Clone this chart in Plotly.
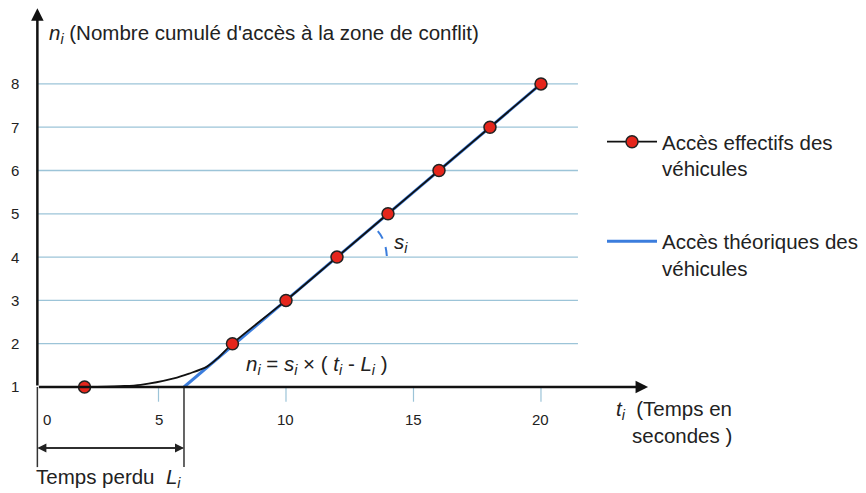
import plotly.graph_objects as go

# ---- data ----
access_t = [2.1, 7.9, 10, 12, 14, 16, 18, 20]          # actual vehicle accesses (s)
access_n = [1, 2, 3, 4, 5, 6, 7, 8]                     # cumulative count
curve_t = [2.1, 3.5, 4.3, 5.6, 6.2, 6.9, 7.35, 7.9, 10, 12, 14, 16, 18, 20]
curve_n = [1.0, 1.02, 1.05, 1.2, 1.31, 1.47, 1.68, 2, 3, 4, 5, 6, 7, 8]
theory_t = [6, 20]                                      # n = s*(t - L), L = 6, s = 0.5
theory_n = [1, 8]
x_ticks = [0, 5, 10, 15, 20]
y_ticks = [1, 2, 3, 4, 5, 6, 7, 8]
lost_time = 6

FONT = "Liberation Sans, Arial, sans-serif"
FS = 20.5
TXT = "#222222"
GRID = "#9cc4d8"
BLUE = "#3b7ddd"
RED = "#e5261c"
x_axis = 0.25

fig = go.Figure()

fig.add_trace(go.Scatter(x=theory_t, y=theory_n, mode="lines",
                         line=dict(color=BLUE, width=3),
                         name="Accès théoriques des<br>véhicules", legend="legend2"))
fig.add_trace(go.Scatter(x=curve_t, y=curve_n, mode="lines", line_shape="spline",
                         line=dict(color="#111111", width=1.8, smoothing=0.9), showlegend=False))
fig.add_trace(go.Scatter(x=access_t, y=access_n, mode="markers",
                         marker=dict(color=RED, size=12, line=dict(color="#222222", width=1.5)),
                         showlegend=False))
fig.add_trace(go.Scatter(x=[None], y=[None], mode="lines+markers",
                         line=dict(color="#111111", width=1.8),
                         marker=dict(color=RED, size=12, line=dict(color="#222222", width=1.5)),
                         name="Accès effectifs des<br>véhicules", legend="legend"))

shapes = []
for v in y_ticks[1:]:
    shapes.append(dict(type="line", x0=x_axis, x1=21.45, y0=v, y1=v,
                       line=dict(color=GRID, width=1.3), layer="below"))
for v in x_ticks[1:]:
    shapes.append(dict(type="line", x0=v, x1=v, y0=0.98, y1=0.66,
                       line=dict(color=GRID, width=1.2)))
# lines below the axis (y-axis extension and lost-time marker)
shapes.append(dict(type="line", x0=x_axis, x1=x_axis, y0=1, y1=-0.85,
                   line=dict(color="#333333", width=1.5)))
shapes.append(dict(type="line", x0=lost_time, x1=lost_time, y0=1, y1=-0.85,
                   line=dict(color="#333333", width=1.5)))
# slope arc
shapes.append(dict(type="path", path="M 13.6,4.6 Q 13.97,4.35 13.96,3.89",
                   line=dict(color=BLUE, width=2, dash="dash")))

ann = []
# axes arrows
ann.append(dict(x=x_axis, y=9.75, ax=x_axis, ay=1, xref="x", yref="y", axref="x", ayref="y",
                text="", showarrow=True, arrowhead=2, arrowsize=1, arrowwidth=2.5, arrowcolor="#111111"))
ann.append(dict(x=24.2, y=1, ax=x_axis, ay=1, xref="x", yref="y", axref="x", ayref="y",
                text="", showarrow=True, arrowhead=2, arrowsize=1, arrowwidth=2.5, arrowcolor="#111111"))
# double arrow for lost time
ann.append(dict(x=x_axis, y=-0.41, ax=lost_time, ay=-0.41, xref="x", yref="y", axref="x", ayref="y",
                text="", showarrow=True, arrowhead=2, arrowsize=1.2, arrowwidth=1.5, arrowcolor="#222222"))
ann.append(dict(x=lost_time, y=-0.41, ax=x_axis, ay=-0.41, xref="x", yref="y", axref="x", ayref="y",
                text="", showarrow=True, arrowhead=2, arrowsize=1.2, arrowwidth=1.5, arrowcolor="#222222"))
# tick labels
for v in x_ticks:
    if v == 0:
        ann.append(dict(x=x_axis, y=0.25, text=str(v), showarrow=False, xanchor="left", xshift=4,
                        font=dict(size=15, color=TXT, family=FONT)))
    else:
        ann.append(dict(x=v, y=0.25, text=str(v), showarrow=False,
                        font=dict(size=15, color=TXT, family=FONT)))
for v in y_ticks:
    ann.append(dict(x=-0.63, y=v, text=str(v), showarrow=False,
                    font=dict(size=15, color=TXT, family=FONT)))
# titles and labels
ann.append(dict(x=0.62, y=9.16, xanchor="left",
                text="<i>n<sub>i</sub></i> (Nombre cumulé d'accès à la zone de conflit)",
                showarrow=False, font=dict(size=FS, color=TXT, family=FONT)))
ann.append(dict(x=27.55, y=0.47, xanchor="right",
                text="<i>t<sub>i</sub></i>  (Temps en", showarrow=False,
                font=dict(size=FS, color=TXT, family=FONT)))
ann.append(dict(x=27.55, y=-0.12, xanchor="right",
                text="secondes )", showarrow=False,
                font=dict(size=FS, color=TXT, family=FONT)))
ann.append(dict(x=0.1, y=-1.1, xanchor="left",
                text="Temps perdu  <i>L<sub>i</sub></i>", showarrow=False,
                font=dict(size=FS, color=TXT, family=FONT)))
ann.append(dict(x=11.2, y=1.51,
                text="<i>n<sub>i</sub></i> = <i>s<sub>i</sub></i> × ( <i>t<sub>i</sub></i> - <i>L<sub>i</sub></i> )",
                showarrow=False, font=dict(size=FS, color=TXT, family=FONT)))
ann.append(dict(x=14.5, y=4.33, text="<i>s<sub>i</sub></i>", showarrow=False,
                font=dict(size=FS, color=TXT, family=FONT)))

# the page body has an 8px margin: ranges chosen so data land where the reference shows them
fig.update_layout(
    width=866, height=493,
    margin=dict(l=0, r=0, t=0, b=0),
    paper_bgcolor="white", plot_bgcolor="white",
    xaxis=dict(range=[-0.902, 33.06], visible=False, fixedrange=True),
    yaxis=dict(range=[-1.633, 9.753], visible=False, fixedrange=True),
    shapes=shapes, annotations=ann,
    legend=dict(x=594 / 866, y=0.769, xanchor="left", yanchor="top", valign="top",
                itemwidth=50, bgcolor="rgba(0,0,0,0)", font=dict(size=FS, color=TXT, family=FONT)),
    legend2=dict(x=594 / 866, y=0.567, xanchor="left", yanchor="top", valign="top",
                 itemwidth=50, bgcolor="rgba(0,0,0,0)", font=dict(size=FS, color=TXT, family=FONT)),
)

fig.write_html("out.html")
